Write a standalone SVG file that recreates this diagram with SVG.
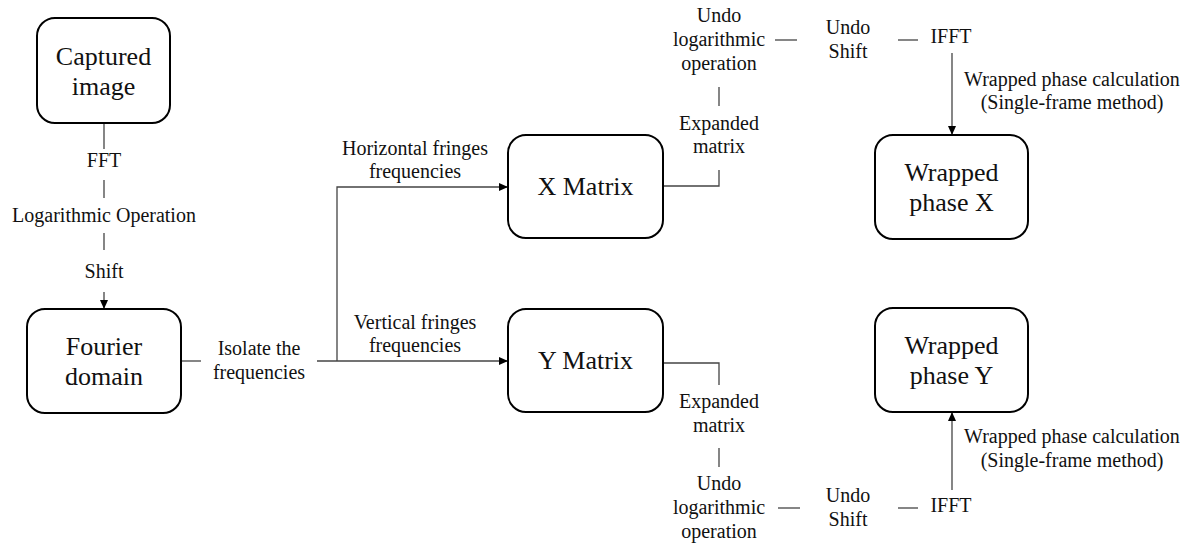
<svg xmlns="http://www.w3.org/2000/svg" width="1193" height="544" viewBox="0 0 1193 544">
<style>
.node rect{fill:#fff;stroke:#000;stroke-width:2}
.nt{font-family:'Liberation Serif',Tinos,'Times New Roman',Times,'DejaVu Serif',serif;font-size:26px;fill:#111;text-anchor:middle}
.lt{font-family:'Liberation Serif',Tinos,'Times New Roman',Times,'DejaVu Serif',serif;font-size:20px;fill:#111;text-anchor:middle}
.c line,.c polyline{stroke:#444;stroke-width:1.3;fill:none}
</style>
<defs>
<marker id="ah" markerUnits="userSpaceOnUse" markerWidth="9" markerHeight="8" refX="9" refY="4" orient="auto">
<path d="M0,0 L9,4 L0,8 z" fill="#000"/>
</marker>
</defs>
<rect width="1193" height="544" fill="#fff"/>
<g id="connectors" class="c">
<line x1="104" y1="123" x2="104" y2="149"/>
<line x1="104" y1="180" x2="104" y2="198"/>
<line x1="104" y1="233" x2="104" y2="250"/>
<line x1="104" y1="292" x2="104" y2="309" marker-end="url(#ah)"/>
<line x1="181" y1="361" x2="201" y2="361"/>
<line x1="317" y1="361" x2="508" y2="361" marker-end="url(#ah)"/>
<polyline points="337,361 337,187 508,187" marker-end="url(#ah)"/>
<polyline points="663,186 719,186 719,170"/>
<line x1="719" y1="106" x2="719" y2="87"/>
<line x1="775" y1="40" x2="797" y2="40"/>
<line x1="898" y1="40" x2="918" y2="40"/>
<line x1="952" y1="53" x2="952" y2="135" marker-end="url(#ah)"/>
<polyline points="663,363 719,363 719,385"/>
<line x1="719" y1="448" x2="719" y2="467"/>
<line x1="778" y1="508" x2="800" y2="508"/>
<line x1="898" y1="508" x2="918" y2="508"/>
<line x1="952" y1="490" x2="952" y2="412" marker-end="url(#ah)"/>
</g>
<g id="captured" class="node">
<rect x="37" y="18" width="133" height="105" rx="18"/>
<text class="nt" x="103.5" y="65">Captured</text>
<text class="nt" x="103.5" y="95">image</text>
</g>
<g id="fourier" class="node">
<rect x="27" y="309" width="154" height="104" rx="18"/>
<text class="nt" x="104" y="355">Fourier</text>
<text class="nt" x="104" y="385">domain</text>
</g>
<g id="xmatrix" class="node">
<rect x="508" y="135" width="155" height="103" rx="18"/>
<text class="nt" x="585.5" y="195">X Matrix</text>
</g>
<g id="ymatrix" class="node">
<rect x="508" y="309" width="155" height="103" rx="18"/>
<text class="nt" x="585.5" y="369">Y Matrix</text>
</g>
<g id="wpx" class="node">
<rect x="875" y="135" width="153" height="104" rx="18"/>
<text class="nt" x="951.5" y="181">Wrapped</text>
<text class="nt" x="951.5" y="211">phase X</text>
</g>
<g id="wpy" class="node">
<rect x="875" y="308" width="153" height="104" rx="18"/>
<text class="nt" x="951.5" y="354">Wrapped</text>
<text class="nt" x="951.5" y="384">phase Y</text>
</g>
<g id="labels">
<text class="lt" x="104" y="167">FFT</text>
<text class="lt" x="104" y="222">Logarithmic Operation</text>
<text class="lt" x="104" y="278">Shift</text>
<text class="lt" x="259" y="355">Isolate the</text>
<text class="lt" x="259" y="379">frequencies</text>
<text class="lt" x="415" y="155">Horizontal fringes</text>
<text class="lt" x="415" y="178">frequencies</text>
<text class="lt" x="415" y="329">Vertical fringes</text>
<text class="lt" x="415" y="352">frequencies</text>
<text class="lt" x="719" y="130">Expanded</text>
<text class="lt" x="719" y="153">matrix</text>
<text class="lt" x="719" y="22">Undo</text>
<text class="lt" x="719" y="46">logarithmic</text>
<text class="lt" x="719" y="70">operation</text>
<text class="lt" x="848" y="34">Undo</text>
<text class="lt" x="848" y="58">Shift</text>
<text class="lt" x="951" y="43">IFFT</text>
<text class="lt" x="1072" y="86">Wrapped phase calculation</text>
<text class="lt" x="1072" y="109">(Single-frame method)</text>
<text class="lt" x="719" y="408">Expanded</text>
<text class="lt" x="719" y="432">matrix</text>
<text class="lt" x="719" y="490">Undo</text>
<text class="lt" x="719" y="514">logarithmic</text>
<text class="lt" x="719" y="538">operation</text>
<text class="lt" x="848" y="502">Undo</text>
<text class="lt" x="848" y="526">Shift</text>
<text class="lt" x="951" y="512">IFFT</text>
<text class="lt" x="1072" y="443">Wrapped phase calculation</text>
<text class="lt" x="1072" y="467">(Single-frame method)</text>
</g>
</svg>
